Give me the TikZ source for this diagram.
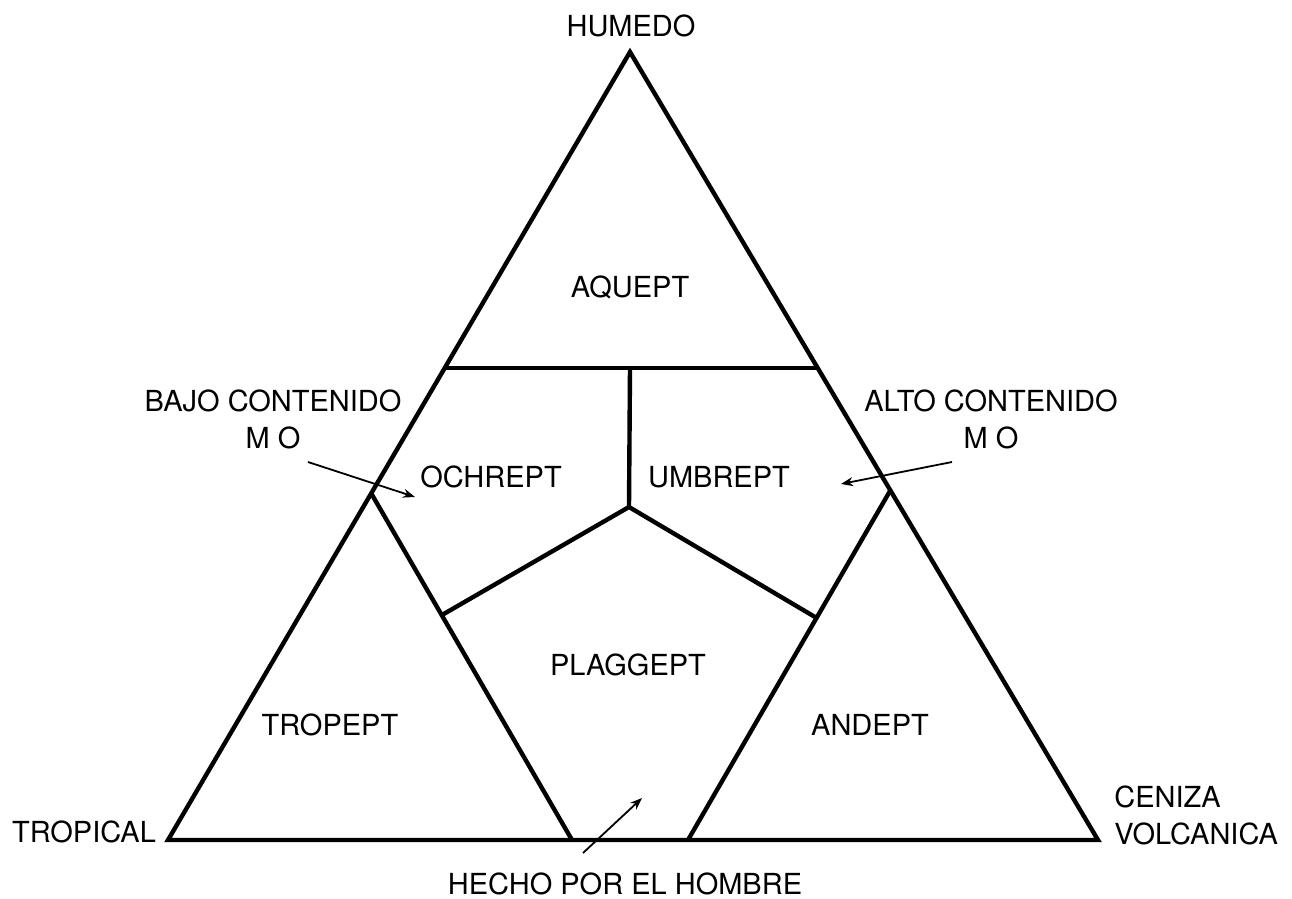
\documentclass[tikz,border=0pt]{standalone}
\usepackage{fontspec}
\setmainfont{TeX Gyre Heros}
\usetikzlibrary{arrows.meta,calc}
\tikzset{
  >={Stealth[length=6pt,width=4.5pt]},
  every node/.style={font=\fontsize{14.5}{18.5}\selectfont,inner sep=0pt},
  edge/.style={line width=2.2pt,line join=miter},
  ptr/.style={->,line width=0.9pt},
  lbl/.style={align=center},
}

\begin{document}
\begin{tikzpicture}[x=0.5pt,y=-0.5pt]
  \useasboundingbox (0,0) rectangle (1292,899);

  % ---------------- corners and junctions
  \coordinate (apex) at (630,52);
  \coordinate (bl)   at (168,840);
  \coordinate (br)   at (1098,840);
  \coordinate (hl)   at (445,368);
  \coordinate (hr)   at (818,368);
  \coordinate (hm)   at (630,368);
  \coordinate (ctr)  at (629,507);
  \coordinate (jl)   at (442,615);
  \coordinate (jr)   at (815,617);
  \coordinate (el)   at (371,493);
  \coordinate (er)   at (890,491);
  \coordinate (bl2)  at (572,840);
  \coordinate (br2)  at (688,840);

  % ---------------- outer triangle
  \draw[edge] (apex) -- (br) -- (bl) -- cycle;

  % ---------------- inner divisions
  \draw[edge] (hl) -- (hr);
  \draw[edge] (hm) -- (ctr);
  \draw[edge] (jl) -- (ctr) -- (jr);
  \draw[edge] (el) -- (bl2);
  \draw[edge] (er) -- (br2);

  % ---------------- region names
  \node (aquept)   at (630,287) {AQUEPT};
  \node (ochrept)  at (491,477) {OCHREPT};
  \node (umbrept)  at (719,477) {UMBREPT};
  \node (plaggept) at (628,665) {PLAGGEPT};
  \node (tropept)  at (330,725) {TROPEPT};
  \node (andept)   at (870,725) {ANDEPT};

  % ---------------- corner labels
  \node (humedo)   at (631,26)  {HUMEDO};
  \node (tropical) at (84,832)  {TROPICAL};
  \node[align=left,anchor=west] (ceniza) at (1114,815) {CENIZA\\VOLCANICA};
  \node[lbl] (bajo) at (273,419) {BAJO CONTENIDO\\M O};
  \node[lbl] (alto) at (991,419) {ALTO CONTENIDO\\M O};
  \node (hecho)    at (625,884) {HECHO POR EL HOMBRE};

  % ---------------- pointers
  \coordinate (pa0) at (308,462);
  \coordinate (pa1) at (415,497);
  \coordinate (pb0) at (952,462);
  \coordinate (pb1) at (841,484);
  \coordinate (pc0) at (583,853);
  \coordinate (pc1) at (642,798);
  \draw[ptr] (pa0) -- (pa1);
  \draw[ptr] (pb0) -- (pb1);
  \draw[ptr] (pc0) -- (pc1);
\end{tikzpicture}
\end{document}
